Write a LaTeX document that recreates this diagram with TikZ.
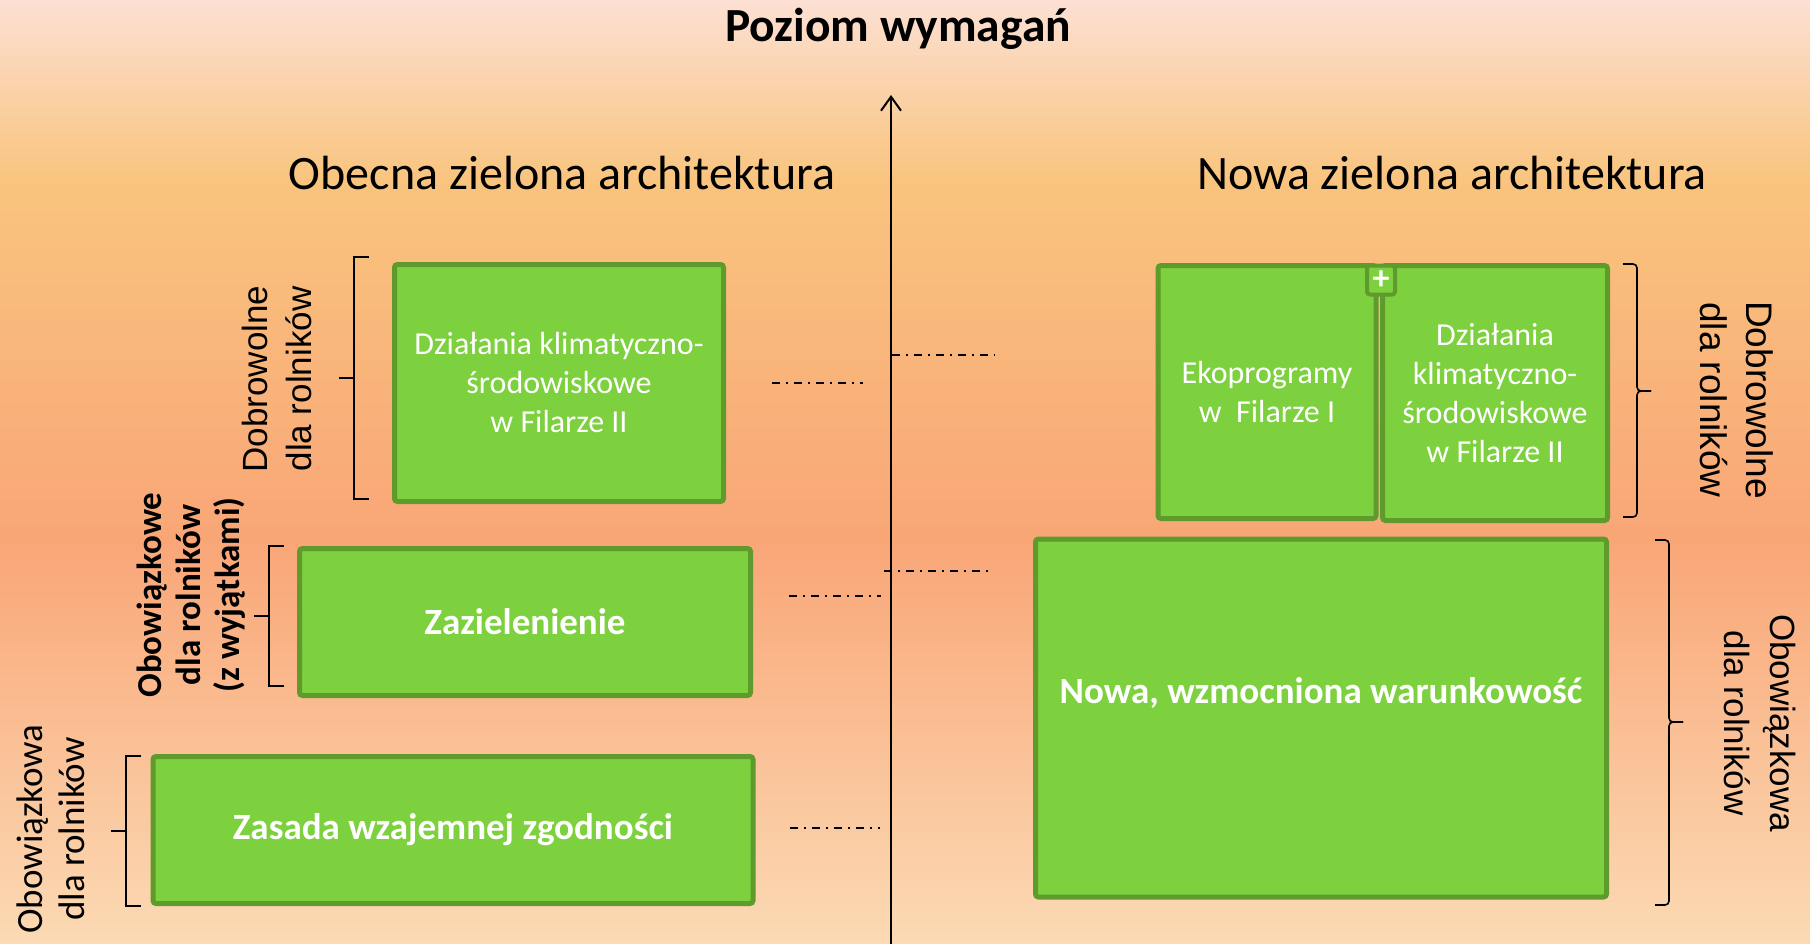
\documentclass[tikz,border=0pt]{standalone}
\usepackage{fontspec}
\setmainfont{Carlito}
\newfontfamily\arialfont{Liberation Sans}
\usetikzlibrary{arrows.meta}

\definecolor{zielony}{HTML}{7DD03E}
\definecolor{ramka}{HTML}{5E9B2C}
\definecolor{tloA}{HTML}{FCE0D3}
\definecolor{tloB}{HTML}{F9C47E}
\definecolor{tloC}{HTML}{F9A677}
\definecolor{tloD}{HTML}{FBDAB4}

\begin{document}
\begin{tikzpicture}[x=1pt, y=-1pt,
  pole/.style={draw=ramka, fill=zielony, line width=5pt, rounded corners=3pt,
    text=white, align=center, inner sep=0pt},
  opis/.style={font=\fontsize{32}{39}\selectfont},
  gruby/.style={font=\bfseries\fontsize{37}{44}\selectfont},
  naglowek/.style={anchor=base, font=\fontsize{48}{58}\selectfont},
  bok/.style={align=center, inner sep=0pt},
  kreska/.style={line width=2pt, dash pattern=on 8pt off 6pt on 2pt off 6pt},
  nawias/.style={line width=1.6pt}]

% tlo
\useasboundingbox (0,0) rectangle (1810,944);
\shade[top color=tloA, bottom color=tloB] (0,0) rectangle (1810,181);
\shade[top color=tloB, bottom color=tloC] (0,180) rectangle (1810,541);
\shade[top color=tloC, bottom color=tloD] (0,540) rectangle (1810,944);

% os
\node[anchor=base, font=\bfseries\fontsize{47.5}{56}\selectfont] (poziom) at (898,42) {Poziom wymagań};
\coordinate (dol) at (891,944);
\coordinate (gora) at (891,95);
\draw[line width=2pt, -{Straight Barb[length=14pt, width=20pt]}] (dol) -- (gora);

\node[naglowek] (obecna) at (562,190) {Obecna zielona architektura};
\node[naglowek] (nowa) at (1452,190) {Nowa zielona architektura};

% obecna
\node[pole, opis, minimum width=329, minimum height=237] (dzk) at (559,383)
  {Działania klimatyczno-\\środowiskowe\\w Filarze II};
\node[pole, gruby, minimum width=451, minimum height=147] (zaz) at (525,622) {Zazielenienie};
\node[pole, gruby, minimum width=600, minimum height=147] (zwz) at (453,830) {Zasada wzajemnej zgodności};

% nowa
\node[pole, opis, minimum width=218, minimum height=253] (eko) at (1267,392) {Ekoprogramy\\w\ \ Filarze I};
\node[pole, opis, minimum width=225, minimum height=255] (dzk2) at (1495,393)
  {Działania\\klimatyczno-\\środowiskowe\\w Filarze II};
\node[pole, line width=4pt, minimum width=28, minimum height=29, font=\bfseries\fontsize{34}{34}\selectfont] (plus) at (1381,280) {+};
\node[pole, minimum width=571, minimum height=358] (war) at (1321,718) {};
\node[gruby, text=white] (warT) at ([yshift=25pt]war.center) {Nowa, wzmocniona warunkowość};

% opisy z boku
\node[bok, rotate=90, font=\arialfont\fontsize{35}{44}\selectfont] (dobrL) at (277,379) {Dobrowolne\\dla rolników};
\node[bok, rotate=90, font=\bfseries\fontsize{35}{39}\selectfont] (obowZ) at (191,595) {Obowiązkowe\\dla rolników\\(z wyjątkami)};
\node[bok, rotate=90, font=\fontsize{37}{42}\selectfont] (obowL) at (51,829) {Obowiązkowa\\dla rolników};
\node[bok, rotate=-90, font=\arialfont\fontsize{37}{46}\selectfont] (dobrR) at (1737,400) {Dobrowolne\\dla rolników};
\node[bok, rotate=-90, font=\arialfont\fontsize{35}{46}\selectfont] (obowR) at (1760,723) {Obowiązkowa\\dla rolników};

% nawiasy
\foreach \x/\ya/\yb in {354/257/499, 269/546/686, 126/756/906}
  \draw[nawias] (\x+15,\ya) -- (\x,\ya) -- (\x,\yb) -- (\x+15,\yb)
    (\x,{(\ya+\yb)/2}) -- (\x-15,{(\ya+\yb)/2});
\foreach \x/\ya/\yb/\ym in {1637/264/517/391, 1669/540/905/722} {
  \draw[nawias, rounded corners=4pt] (\x-14,\ya) -- (\x,\ya) -- (\x,\ym) -- (\x+14,\ym);
  \draw[nawias, rounded corners=4pt] (\x+14,\ym) -- (\x,\ym) -- (\x,\yb) -- (\x-14,\yb);
}

% poziomy
\foreach \xa/\xb/\y in {772/863/383, 892/995/355, 884/988/571, 789/881/596, 790/880/828}
  \draw[kreska] (\xa,\y) -- (\xb,\y);
\end{tikzpicture}
\end{document}
